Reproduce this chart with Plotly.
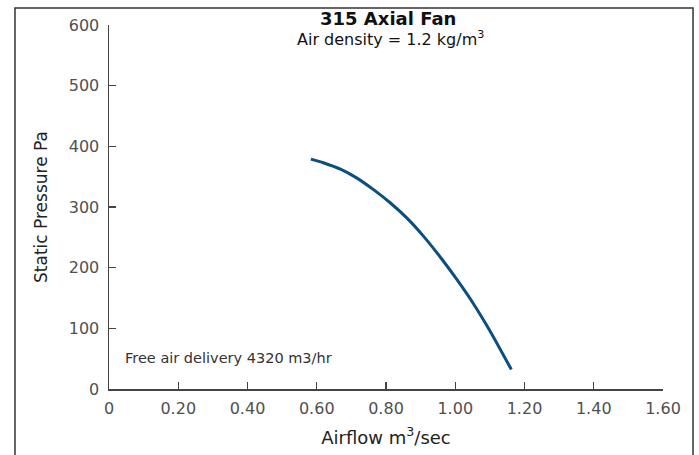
import plotly.graph_objects as go

airflow = [0.583, 0.619, 0.670, 0.715, 0.763, 0.812, 0.860, 0.908, 0.956, 1.004, 1.052, 1.100, 1.162]
pressure = [379, 373, 362, 348, 329, 307, 282, 252, 218, 181, 141, 96, 32]

x_ticks = [0, 0.2, 0.4, 0.6, 0.8, 1.0, 1.2, 1.4, 1.6]
x_labels = ["0", "0.20", "0.40", "0.60", "0.80", "1.00", "1.20", "1.40", "1.60"]
y_ticks = [0, 100, 200, 300, 400, 500, 600]

title = "<b>315 Axial Fan</b>"
subtitle = "Air density = 1.2 kg/m<sup>3</sup>"
note = "Free air delivery 4320 m3/hr"

FONT = "DejaVu Sans"
AX = "#444444"

fig = go.Figure()
fig.add_trace(go.Scatter(x=airflow, y=pressure, mode="lines",
                         line=dict(color="#0b4f7f", width=3, shape="spline", smoothing=0.6),
                         showlegend=False, hoverinfo="skip"))

fig.update_layout(
    width=699, height=455,
    margin=dict(l=109, r=36, t=25, b=66),
    paper_bgcolor="white", plot_bgcolor="white",
    font=dict(family=FONT, color="#333333"),
    showlegend=False,
    xaxis=dict(range=[0, 1.6], tickvals=x_ticks, ticktext=x_labels, automargin=False,
               showgrid=False, zeroline=False, showline=True, linecolor=AX, linewidth=1.5,
               ticks="inside", ticklen=7, tickcolor=AX, tickwidth=1.2,
               tickfont=dict(size=16, color="#505050", family=FONT),
               ticklabelstandoff=4,
               title=dict(text="Airflow m<sup>3</sup>/sec", font=dict(size=18, color="#222222", family=FONT), standoff=14),
               fixedrange=True),
    yaxis=dict(range=[0, 600], tickvals=y_ticks, automargin=False,
               showgrid=False, zeroline=False, showline=True, linecolor=AX, linewidth=1.5,
               ticks="inside", ticklen=7, tickcolor=AX, tickwidth=1.2,
               tickfont=dict(size=16, color="#505050", family=FONT),
               ticklabelstandoff=5,
               title=dict(text="Static Pressure Pa", font=dict(size=17, color="#222222", family=FONT), standoff=17),
               fixedrange=True),
    annotations=[
        dict(text=title, x=0.503, y=1.0165, xref="paper", yref="paper", xanchor="center", yanchor="middle",
             showarrow=False, font=dict(size=18, color="#111111", family=FONT)),
        dict(text=subtitle, x=0.508, y=0.962, xref="paper", yref="paper", xanchor="center", yanchor="middle",
             showarrow=False, font=dict(size=16, color="#111111", family=FONT)),
        dict(text=note, x=0.025, y=51, xref="paper", yref="y", xanchor="left", yanchor="middle",
             showarrow=False, font=dict(size=14.5, color="#333333", family=FONT)),
    ],
    shapes=[
        dict(type="rect", xref="paper", yref="paper", x0=-0.1697, x1=1.0542, y0=-0.2, y1=1.0467,
             line=dict(color="#333333", width=1.5), fillcolor="rgba(0,0,0,0)", layer="below"),
    ],
)

fig.write_html("out.html", config={"displayModeBar": False, "staticPlot": True},
               post_script="document.body.style.margin='0';document.body.style.padding='0';")
